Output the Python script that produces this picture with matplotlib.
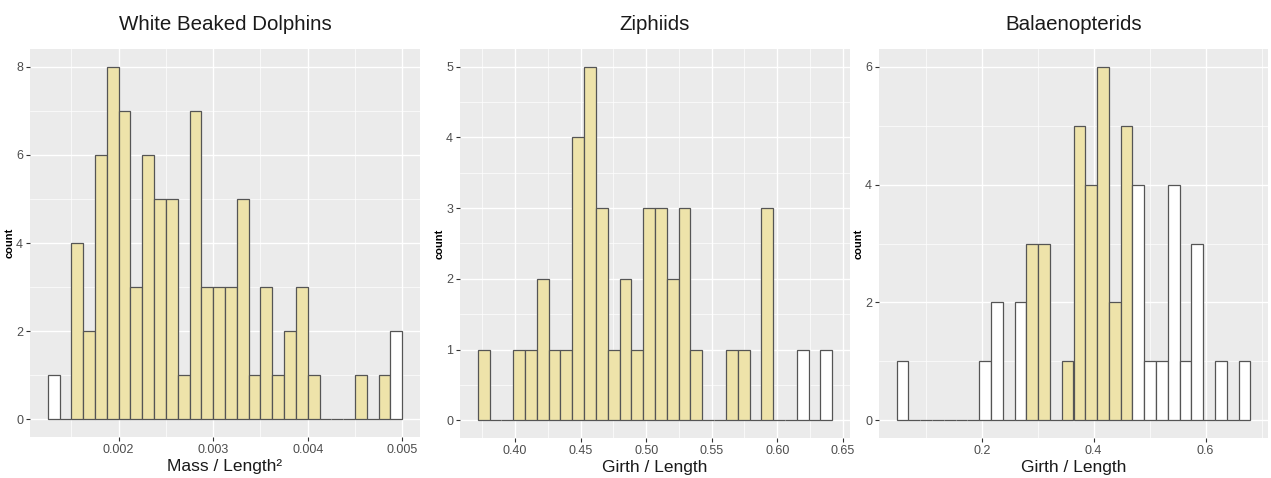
import numpy as np
import matplotlib.pyplot as plt
from matplotlib.ticker import MultipleLocator

plt.rcParams["font.family"] = ["Liberation Sans", "DejaVu Sans"]

# per-bin counts (30 bins each) and the bin range of every histogram
dolphin_counts = [1, 0, 4, 2, 6, 8, 7, 3, 6, 5, 5, 1, 7, 3, 3,
                  3, 5, 1, 3, 1, 2, 3, 1, 0, 0, 0, 1, 0, 1, 2]
dolphin_range = (0.00125, 0.005)
dolphin_fill = (1, 28)  # first and last shaded bin

ziphiid_counts = [1, 0, 0, 1, 1, 2, 1, 1, 4, 5, 3, 1, 2, 1, 3,
                  3, 2, 3, 1, 0, 0, 1, 1, 0, 3, 0, 0, 1, 0, 1]
ziphiid_range = (0.3715, 0.642)
ziphiid_fill = (0, 26)

balaen_counts = [1, 0, 0, 0, 0, 0, 0, 1, 2, 0, 2, 3, 3, 0, 1,
                 5, 4, 6, 2, 5, 4, 1, 1, 4, 1, 3, 0, 1, 0, 1]
balaen_range = (0.048, 0.680)
balaen_fill = (11, 19)

titles = ["White Beaked Dolphins", "Ziphiids", "Balaenopterids"]
xlabels = ["Mass / Length\u00b2", "Girth / Length", "Girth / Length"]

FILL = "#EEE3AA"
EDGE = "#555555"
PANEL = "#EBEBEB"
TXT = "#4D4D4D"

W, H = 1271, 478
fig = plt.figure(figsize=(W / 100, H / 100), dpi=100)


def px_axes(x0, x1, y0, y1):
    return fig.add_axes([x0 / W, 1 - y1 / H, (x1 - x0) / W, (y1 - y0) / H])


def hist_panel(ax, counts, rng, fill, title, xlabel, xmajor, xminor, xfmt, ymajor):
    counts = np.asarray(counts)
    edges = np.linspace(rng[0], rng[1], len(counts) + 1)
    width = edges[1] - edges[0]
    colors = [FILL if fill[0] <= i <= fill[1] else "white" for i in range(len(counts))]
    ax.bar(edges[:-1], counts, width=width, align="edge", color=colors,
           edgecolor=EDGE, linewidth=0.9, zorder=3)

    span = rng[1] - rng[0]
    ax.set_xlim(rng[0] - 0.05 * span, rng[1] + 0.05 * span)
    ymax = counts.max()
    ax.set_ylim(-0.05 * ymax, ymax * 1.05)

    ax.set_facecolor(PANEL)
    for s in ax.spines.values():
        s.set_visible(False)
    ax.xaxis.set_major_locator(MultipleLocator(xmajor))
    ax.xaxis.set_minor_locator(MultipleLocator(xminor))
    ax.yaxis.set_major_locator(MultipleLocator(ymajor))
    ax.yaxis.set_minor_locator(MultipleLocator(ymajor / 2))
    ax.xaxis.set_major_formatter(xfmt)
    ax.grid(which="major", color="white", linewidth=1.0, zorder=0)
    ax.grid(which="minor", color="white", linewidth=0.5, zorder=0)
    ax.set_axisbelow(True)
    ax.tick_params(which="major", length=3, width=0.8, color="#333333",
                   labelsize=9, labelcolor=TXT, pad=2)
    ax.tick_params(which="minor", length=0)

    ax.set_title(title, fontsize=14.8, pad=14, color="#1A1A1A")
    ax.set_xlabel(xlabel, fontsize=12.5, labelpad=2, color="#1A1A1A")
    ax.set_ylabel("count", fontsize=8, fontweight="bold", labelpad=1)


ax1 = px_axes(30, 420, 49, 437)
ax2 = px_axes(460, 850, 49, 438)
ax3 = px_axes(879, 1268, 49, 438)

hist_panel(ax1, dolphin_counts, dolphin_range, dolphin_fill, titles[0], xlabels[0],
           0.001, 0.0005, "{x:.3f}", 2)
hist_panel(ax2, ziphiid_counts, ziphiid_range, ziphiid_fill, titles[1], xlabels[1],
           0.05, 0.025, "{x:.2f}", 1)
hist_panel(ax3, balaen_counts, balaen_range, balaen_fill, titles[2], xlabels[2],
           0.2, 0.1, "{x:.1f}", 2)

fig.savefig("out.png", dpi=100, facecolor="white")
